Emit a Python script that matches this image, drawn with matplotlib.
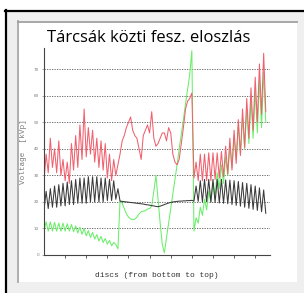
import numpy as np
import matplotlib
matplotlib.use("Agg")
import matplotlib.pyplot as plt
from matplotlib.patches import Rectangle

title = "Tárcsák közti fesz. eloszlás"
x_label = "discs (from bottom to top)"
y_label = "Voltage  [kVp]"
y_ticks = [0, 10, 20, 30, 40, 50, 60, 70]
x_ticks = [10, 20, 30, 40, 50, 60, 70, 80, 90, 100]

# values per disc (discs 0..105)
red = [
    28, 38, 31, 44, 33, 40, 31, 43, 30, 36, 28, 35, 27, 42, 32, 45, 33, 49,
    36, 55, 37, 48, 38, 47, 35, 44, 33, 43, 32, 42, 29, 38, 28, 36, 30, 34,
    38, 43, 45, 48, 50, 52, 47, 45, 44, 40, 36, 45, 47, 49, 46, 54, 44, 41,
    42, 44, 46, 46, 43, 48, 46, 38, 35, 34, 36, 42, 48, 55, 58, 59, 61,
    29, 35, 28, 38, 28, 38, 28, 38.5, 28, 38.5, 28.5, 38.5, 29, 39, 29.5, 41,
    30.5, 44, 32, 47, 34.5, 51, 37.5, 55, 40.5, 59, 44, 63, 47, 67, 50, 72,
    53, 76, 54,
]
black = [
    17, 24, 17.5, 25, 18, 26, 18, 26.5, 18.5, 27, 18.5, 27.5, 19, 28, 19, 28.5,
    19.5, 29, 19.5, 29, 19.5, 29.5, 20, 29.5, 20, 29.5, 20, 29, 20, 29, 20.5,
    28.5, 20.5, 28, 21, 25,
    20.3, 20.2, 20.1, 20.0, 19.9, 19.8, 19.7, 19.6, 19.5, 19.4, 19.3, 19.2,
    19.0, 18.9, 18.8, 18.6, 18.5, 18.3, 18.2, 18.4, 18.7, 19.0, 19.3, 19.6,
    19.8, 20.0, 20.1, 20.2, 20.3, 20.3, 20.4, 20.4, 20.5, 20.5, 20.6,
    20.3, 26, 20.2, 28, 20.1, 28.5, 20, 28.5, 19.9, 28.5, 19.8, 28.5, 19.6,
    28.5, 19.5, 28.3, 19.3, 28.2, 19, 28, 18.7, 27.7, 18.4, 27.3, 18, 27,
    17.6, 26.5, 17.2, 26, 16.8, 25.3, 16.3, 24.5, 15.7,
]
green = [
    9, 12.5, 9, 12.5, 9, 12.3, 9, 12, 9, 12, 9, 11.8, 9, 11.5, 8.8, 11, 8.3,
    10.5, 7.8, 10, 7.2, 9.2, 6.6, 8.5, 6, 7.7, 5.3, 7, 4.7, 6.2, 4.1, 5.5,
    3.5, 4.7, 4.0, 2.3,
    20.5, 19.5, 17.5, 15.5, 14.3, 13.6, 13.3, 13.5, 14.3, 15.5, 16.3, 16.5,
    16.7, 17.3, 17.5, 18.5, 24, 30, 21, 12, 4, 0.8, 6.5, 12, 17.5, 23, 28.5,
    34, 40, 45.5, 51, 57, 62.5, 68, 77,
    9, 14, 12, 18, 15, 21, 17, 24, 20, 27, 22, 31, 25, 34, 27, 37, 30, 41,
    33, 45, 36, 49, 38, 52, 40, 55, 42, 59, 44, 62, 46, 66, 48, 69, 50,
]

discs = np.arange(len(red))

fig = plt.figure(figsize=(3.04, 2.93), dpi=100)
fig.patch.set_facecolor("white")

# slide frame around the picture
W, H = 304.0, 293.0
fig.add_artist(Rectangle((5 / W, 0), 1 - 5 / W, 1 - 10 / H, transform=fig.transFigure,
                         facecolor="#efefef", edgecolor="none", zorder=0))
fig.add_artist(Rectangle((17 / W, 11 / H), 280 / W, 261 / H, transform=fig.transFigure,
                         facecolor="white", edgecolor="none", zorder=0))
fig.add_artist(plt.Line2D([17.5 / W, 17.5 / W], [11 / H, 1 - 21 / H], transform=fig.transFigure,
                          color="#a8a8a8", lw=1.3))
fig.add_artist(plt.Line2D([17.5 / W, 297 / W], [1 - 21.5 / H, 1 - 21.5 / H], transform=fig.transFigure,
                          color="#a0a0a0", lw=1.3))
fig.add_artist(plt.Line2D([6 / W, 6 / W], [0, 1 - 10 / H], transform=fig.transFigure,
                          color="black", lw=1.6))
fig.add_artist(plt.Line2D([5 / W, 1], [1 - 11 / H, 1 - 11 / H], transform=fig.transFigure,
                          color="black", lw=1.6))

ax = fig.add_axes([44 / W, 38 / H, 226 / W, 207 / H])
ax.set_facecolor("none")

ax.plot(discs, green, color="#6aee6a", lw=0.75)
ax.plot(discs, red, color="#f0606e", lw=0.75)
ax.plot(discs, black, color="#3a3a3a", lw=0.75)

ax.set_xlim(0, 107)
ax.set_ylim(0, 78)
ax.set_xticks(x_ticks)
ax.set_xticklabels([])
ax.set_yticks(y_ticks)
ax.set_yticklabels([str(v) for v in y_ticks], fontsize=3, color="#777777")
ax.tick_params(axis="x", length=2.5, width=0.6, color="#444444", direction="out")
ax.tick_params(axis="y", length=1.5, width=0.5, color="#888888", pad=2)
for v in y_ticks[1:]:
    ax.axhline(v, color="#555555", lw=0.6, ls=(0, (1.5, 1.5)), zorder=0)

for side in ["top", "right"]:
    ax.spines[side].set_visible(False)
for side in ["left", "bottom"]:
    ax.spines[side].set_color("#444444")
    ax.spines[side].set_linewidth(0.8)

ax.set_xlabel(x_label, family="Liberation Mono", fontsize=5.8, color="#333333", labelpad=6)
ax.set_ylabel(y_label, family="Liberation Mono", fontsize=5.5, color="#777777", labelpad=5)

fig.text(47 / W, 1 - 38 / H, title, family="Open Sans", fontsize=12, color="black",
         ha="left", va="center")

fig.savefig("out.png", dpi=100)
